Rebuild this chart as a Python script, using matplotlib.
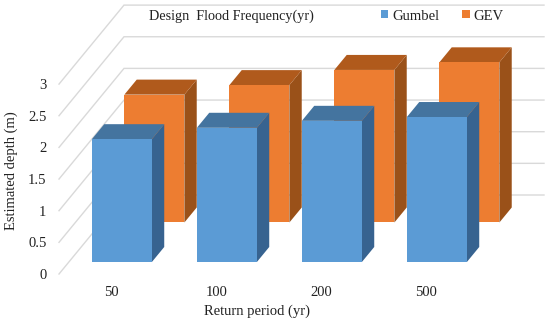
import matplotlib
matplotlib.use("Agg")
import matplotlib.pyplot as plt
from matplotlib.patches import Polygon, Patch

categories = ["50", "100", "200", "500"]
gumbel = [1.94, 2.12, 2.23, 2.29]
gev = [2.02, 2.17, 2.41, 2.53]
yticks = [0, 0.5, 1, 1.5, 2, 2.5, 3]
ytick_labels = ["0", "0.5", "1", "1.5", "2", "2.5", "3"]

W, H = 550, 324
PX_X, PX_Y = 105.0, 63.3     # pixels per category / per depth unit
LEFT, BASE, BAR0 = 59, 274, 82
DX, DY = 65 / PX_X, 79 / PX_Y  # full floor depth in data units
BAR_W = 60 / PX_X
BAR_D = 0.19
BLUE_D, ORANGE_D = 0.152, 0.652
GRID = "#d9d9d9"

plt.rcParams["font.family"] = ["Liberation Serif", "DejaVu Serif"]
fig = plt.figure(figsize=(W / 100, H / 100), dpi=100)
ax = fig.add_axes([LEFT / W, (H - BASE) / H, (W - LEFT) / W, BASE / H])
ax.set_xlim((LEFT - BAR0) / PX_X, (W - BAR0) / PX_X)
ax.set_ylim(0, BASE / PX_Y)
for s in ax.spines.values():
    s.set_visible(False)
ax.patch.set_visible(False)

x0 = (LEFT - BAR0) / PX_X
x_end = (544 - BAR0) / PX_X
for v in yticks:
    ax.plot([x0, x0 + DX, x_end], [v, v + DY, v + DY], color=GRID, lw=1.0,
            zorder=1, clip_on=False, solid_joinstyle="miter")


def bar3d(x, v, d, front, top, side, z):
    def p(xx, vv, dd):
        return (xx + DX * dd, vv + DY * dd)
    ax.add_patch(Polygon([p(x, 0, d), p(x + BAR_W, 0, d), p(x + BAR_W, v, d), p(x, v, d)],
                         fc=front, ec="none", zorder=z + 0.2, clip_on=False))
    ax.add_patch(Polygon([p(x, v, d), p(x + BAR_W, v, d), p(x + BAR_W, v, d + BAR_D), p(x, v, d + BAR_D)],
                         fc=top, ec="none", zorder=z + 0.1, clip_on=False))
    ax.add_patch(Polygon([p(x + BAR_W, 0, d), p(x + BAR_W, v, d), p(x + BAR_W, v, d + BAR_D), p(x + BAR_W, 0, d + BAR_D)],
                         fc=side, ec="none", zorder=z, clip_on=False))


for i, v in enumerate(gev):
    bar3d(i, v, ORANGE_D, "#ED7D31", "#B05A1C", "#9A5119", 2)
for i, v in enumerate(gumbel):
    bar3d(i, v, BLUE_D, "#5B9BD5", "#44749F", "#376390", 3)

ax.set_yticks(yticks, ytick_labels, fontsize=10.5, color="#222222")
ax.set_xticks([i + 0.28 for i in range(4)], categories, fontsize=10.5, color="#222222")
ax.tick_params(axis="y", length=0, pad=9)
ax.tick_params(axis="x", length=0, pad=9)
ax.set_xlabel("Return period (yr)", fontsize=10.5, color="#222222")
ax.xaxis.set_label_coords((257 - LEFT) / (W - LEFT), -37 / BASE, transform=ax.transAxes)
ax.xaxis.label.set_va("center")
ax.set_ylabel("Estimated depth (m)", fontsize=10.5, color="#222222")
ax.yaxis.set_label_coords((11 - LEFT) / (W - LEFT), (BASE - 171) / BASE, transform=ax.transAxes)
ax.yaxis.label.set_va("center")

ax.text((149 - LEFT) / (W - LEFT), (BASE - 16.5) / BASE, "Design  Flood Frequency(yr)",
        transform=ax.transAxes, ha="left", va="center", fontsize=10.2, color="#222222")

ax.legend(handles=[Patch(fc="#5B9BD5", label="Gumbel"), Patch(fc="#ED7D31", label="GEV")],
          ncol=2, frameon=False, fontsize=10.5, labelcolor="#222222",
          handlelength=0.5, handleheight=0.5, handletextpad=0.25, columnspacing=1.6,
          loc="center left", bbox_to_anchor=((381 - LEFT) / (W - LEFT), (BASE - 16) / BASE),
          borderaxespad=0, borderpad=0)

fig.savefig("out.png", dpi=100, facecolor="white")
